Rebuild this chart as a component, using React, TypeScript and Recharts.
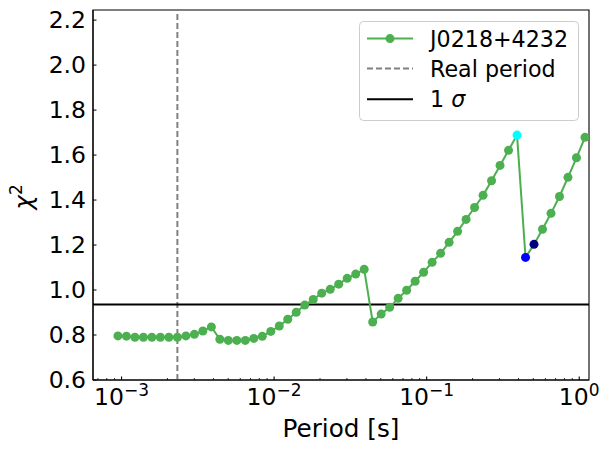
import {
  LineChart, Line, XAxis, YAxis, ReferenceLine, ReferenceArea, Legend
} from "recharts";

// trial periods [s] (log spaced grid)
const periods = [
  0.000947, 0.001077, 0.001224, 0.001391, 0.001581, 0.001797, 0.002043, 0.002323,
  0.002641, 0.003002, 0.003412, 0.003879, 0.004409, 0.005012, 0.005697, 0.006476,
  0.007362, 0.008368, 0.009512, 0.010812, 0.01229, 0.013971, 0.015881, 0.018053,
  0.020521, 0.023327, 0.026515, 0.030141, 0.034263, 0.038947, 0.044272, 0.050326,
  0.057209, 0.065029, 0.073921, 0.084028, 0.095521, 0.10858, 0.12343, 0.1403,
  0.15949, 0.1813, 0.20609, 0.23428, 0.2663, 0.30269, 0.34412, 0.39113,
  0.44463, 0.50546, 0.57449, 0.65313, 0.74228, 0.84384, 0.95917, 1.0904,
];

const chi2 = [
  0.796, 0.795, 0.79, 0.79, 0.79, 0.79, 0.79, 0.79,
  0.796, 0.803, 0.818, 0.836, 0.781, 0.776, 0.776, 0.776,
  0.785, 0.794, 0.816, 0.84, 0.87, 0.901, 0.933, 0.958,
  0.986, 1.003, 1.026, 1.052, 1.071, 1.092, 0.858, 0.893,
  0.923, 0.963, 0.999, 1.039, 1.079, 1.123, 1.163, 1.212,
  1.261, 1.314, 1.367, 1.421, 1.486, 1.554, 1.621, 1.689,
  1.145, 1.203, 1.27, 1.341, 1.416, 1.501, 1.588, 1.679,
];

const REAL_PERIOD = 0.002323;
const ONE_SIGMA = 0.936;

const majorTicksX = [0.001, 0.01, 0.1, 1];
const majorExp = ["−3", "−2", "−1", "0"];
const minorTicksX = [
  0.0007, 0.0008, 0.0009,
  0.002, 0.003, 0.004, 0.005, 0.006, 0.007, 0.008, 0.009,
  0.02, 0.03, 0.04, 0.05, 0.06, 0.07, 0.08, 0.09,
  0.2, 0.3, 0.4, 0.5, 0.6, 0.7, 0.8, 0.9,
];
const ticksX = [...majorTicksX, ...minorTicksX].sort((a, b) => a - b);
const ticksY = [0.6, 0.8, 1.0, 1.2, 1.4, 1.6, 1.8, 2.0, 2.2];

const X_DOMAIN = [0.00065, 1.159];
const Y_DOMAIN = [0.6, 2.245];

// special markers drawn in other colours
const highlight: Record<number, string> = { 47: "#00ffff", 48: "#0000ff", 49: "#000080" };

const GREEN = "#4caf50";
const FONT = "DejaVu Sans, sans-serif";
const TICK_FS = 23.5;
const LABEL_FS = 24.7;
const LEGEND_FS = 22.2;

const data = periods.map((p, i) => ({ period: p, chi2: chi2[i] }));

function XTick(props: any) {
  const { x, y, payload } = props;
  const i = majorTicksX.indexOf(payload.value);
  if (i < 0) {
    return <line x1={x} x2={x} y1={y} y2={y - 2} stroke="#000" strokeWidth={0.8} />;
  }
  return (
    <g>
      <line x1={x} x2={x} y1={y} y2={y - 3.5} stroke="#000" strokeWidth={1.1} />
      <text x={x} y={y + 24.5} textAnchor="middle" fontFamily={FONT} fontSize={TICK_FS} fill="#000">
        <tspan>10</tspan>
        <tspan dy={-8.5} fontSize={17}>{majorExp[i]}</tspan>
      </text>
    </g>
  );
}

function Dot(props: any) {
  const { cx, cy, index } = props;
  return <circle key={index} cx={cx} cy={cy} r={4.5} fill={highlight[index] ?? GREEN} />;
}

function LegendBox() {
  return (
    <svg width={220} height={100} style={{ display: "block" }}>
      <rect x={0.5} y={0.5} width={219} height={99} rx={4} fill="#fff" fillOpacity={0.8} stroke="#cccccc" />
      <line x1={8} x2={54} y1={17.6} y2={17.6} stroke={GREEN} strokeWidth={2} />
      <circle cx={31} cy={17.6} r={4.5} fill={GREEN} />
      <text x={71} y={25.6} fontFamily={FONT} fontSize={LEGEND_FS}>J0218+4232</text>
      <line x1={8} x2={54} y1={47.6} y2={47.6} stroke="#808080" strokeWidth={2} strokeDasharray="6 3" />
      <text x={71} y={55.6} fontFamily={FONT} fontSize={LEGEND_FS}>Real period</text>
      <line x1={8} x2={54} y1={78.3} y2={78.3} stroke="#000" strokeWidth={2} />
      <text x={71} y={86.3} fontFamily={FONT} fontSize={LEGEND_FS}>
        1 <tspan fontStyle="italic">σ</tspan>
      </text>
    </svg>
  );
}

export default function App() {
  return (
    <div style={{ position: "absolute", left: 0, top: 0, width: 611, height: 451, background: "#fff" }}>
      <LineChart
        width={611}
        height={451}
        data={data}
        margin={{ top: 10, right: 22, bottom: 11, left: 33 }}
      >
        <XAxis
          dataKey="period"
          type="number"
          scale="log"
          domain={X_DOMAIN}
          allowDataOverflow
          ticks={ticksX}
          interval={0}
          height={60}
          tickSize={0}
          tickMargin={0}
          tickLine={false}
          tick={<XTick />}
          axisLine={{ stroke: "#000", strokeWidth: 1.1 }}
          label={{
            content: (p: any) => {
              const vb = p.viewBox;
              return (
                <text x={vb.x + vb.width / 2} y={vb.y + 57} textAnchor="middle" fontFamily={FONT} fontSize={LABEL_FS} fill="#000">
                  Period [s]
                </text>
              );
            },
          }}
        />
        <YAxis
          type="number"
          domain={Y_DOMAIN}
          allowDataOverflow
          ticks={ticksY}
          interval={0}
          width={60}
          tickSize={-3.5}
          tickMargin={10.5}
          tickFormatter={(v: number) => v.toFixed(1)}
          tick={{ fill: "#000", fontSize: TICK_FS, fontFamily: FONT }}
          tickLine={{ stroke: "#000" }}
          axisLine={{ stroke: "#000", strokeWidth: 1.1 }}
          label={{
            content: (p: any) => {
              const vb = p.viewBox;
              const cx = 31.5;
              const cy = vb.y + vb.height / 2 + 2;
              return (
                <text x={cx} y={cy} transform={`rotate(-90, ${cx}, ${cy})`} textAnchor="middle" fontFamily={FONT} fontSize={LABEL_FS} fill="#000">
                  <tspan fontStyle="italic">χ</tspan>
                  <tspan dy={-10} fontSize={17}>2</tspan>
                </text>
              );
            },
          }}
        />
        <ReferenceArea
          x1={X_DOMAIN[0]}
          x2={X_DOMAIN[1]}
          y1={Y_DOMAIN[0]}
          y2={Y_DOMAIN[1]}
          fill="none"
          fillOpacity={0}
          stroke="#000"
          strokeWidth={1.1}
          strokeOpacity={1}
        />
        <ReferenceLine x={REAL_PERIOD} stroke="#808080" strokeWidth={2} strokeDasharray="6 3" />
        <ReferenceLine y={ONE_SIGMA} stroke="#000" strokeWidth={2} />
        <Line
          dataKey="chi2"
          stroke={GREEN}
          strokeWidth={2}
          dot={Dot}
          activeDot={false}
          isAnimationActive={false}
        />
        <Legend
          layout="horizontal"
          verticalAlign="middle"
          align="center"
          content={() => <LegendBox />}
          wrapperStyle={{ left: 359, top: 21, width: 220, height: 100 }}
        />
      </LineChart>
    </div>
  );
}
